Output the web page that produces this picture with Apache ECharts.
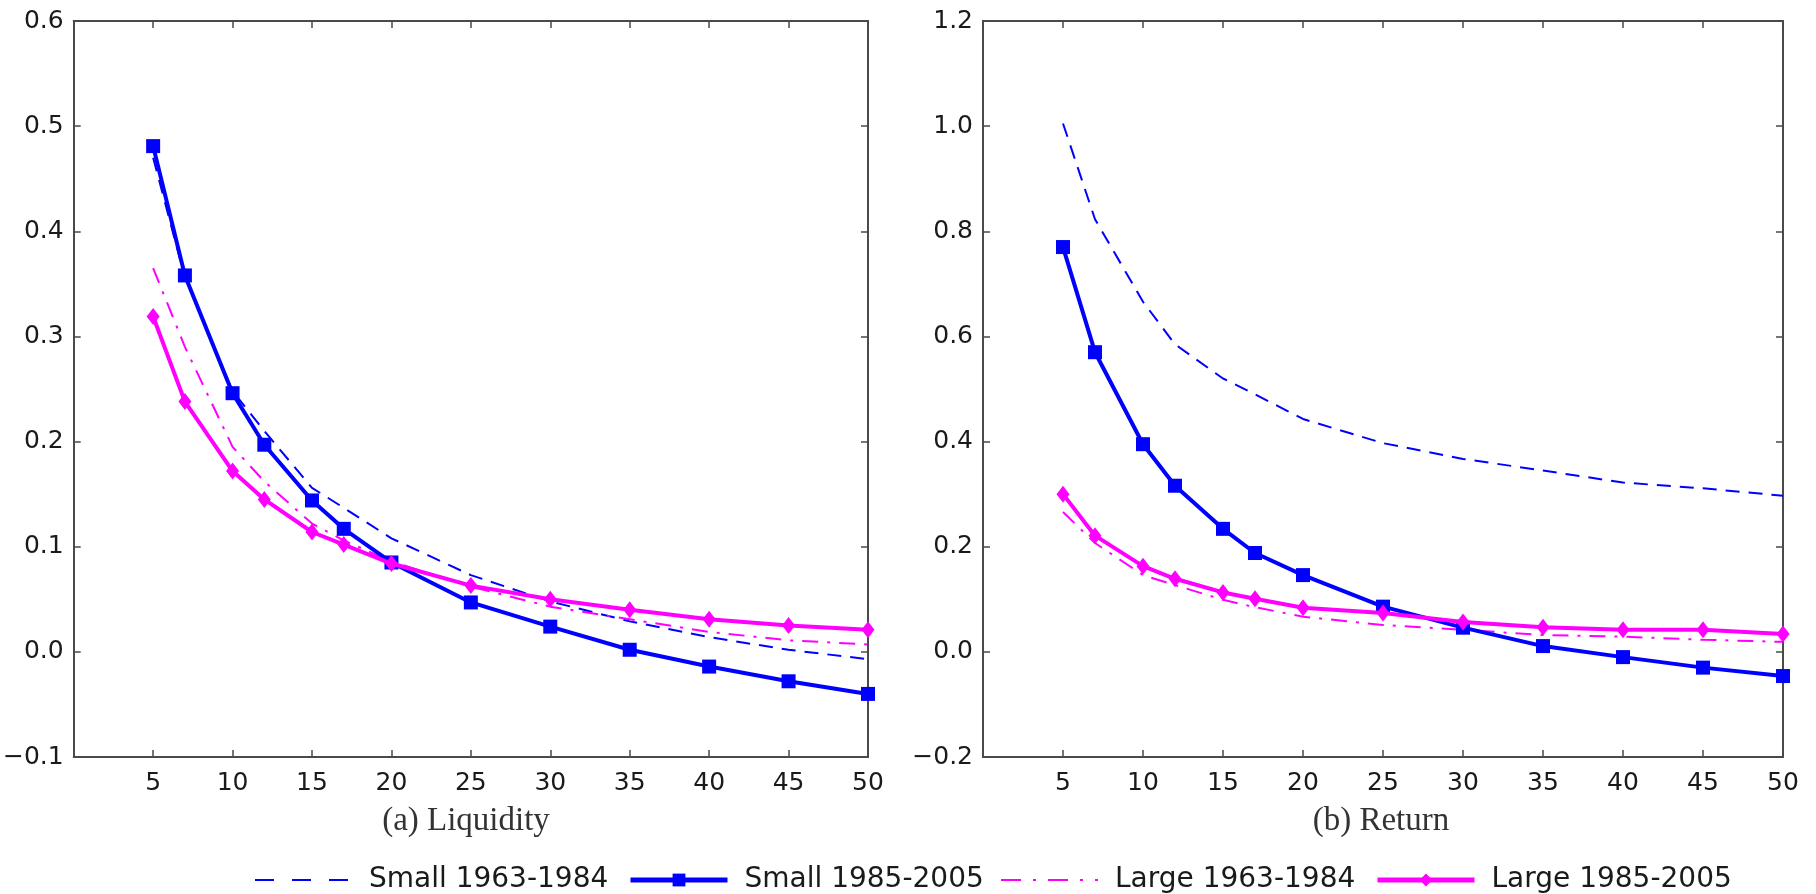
<!DOCTYPE html>
<html>
<head>
<meta charset="utf-8">
<script src="https://cdn.jsdelivr.net/npm/echarts@6/dist/echarts.min.js"></script>
<style>
html,body{margin:0;padding:0;background:#fff;}
#chart{width:1816px;height:894px;}
</style>
</head>
<body>
<div id="chart"></div>
<script>
// Horizon (x values)
const horizons = [5, 7, 10, 12, 15, 17, 20, 25, 30, 35, 40, 45, 50];

// Series names
const seriesNames = ['Small 1963-1984', 'Small 1985-2005', 'Large 1963-1984', 'Large 1985-2005'];

// Panel (a) Liquidity
const liqSmallEarly = [0.470, 0.356, 0.248, 0.210, 0.156, 0.137, 0.108, 0.073, 0.048, 0.029, 0.014, 0.002, -0.007];
const liqSmallLate  = [0.481, 0.358, 0.246, 0.197, 0.144, 0.117, 0.085, 0.047, 0.024, 0.002, -0.014, -0.028, -0.040];
const liqLargeEarly = [0.365, 0.290, 0.195, 0.162, 0.122, 0.106, 0.086, 0.062, 0.043, 0.031, 0.019, 0.011, 0.007];
const liqLargeLate  = [0.319, 0.238, 0.172, 0.145, 0.114, 0.102, 0.084, 0.063, 0.050, 0.040, 0.031, 0.025, 0.021];

// Panel (b) Return
const retSmallEarly = [1.005, 0.823, 0.666, 0.585, 0.520, 0.490, 0.443, 0.397, 0.367, 0.345, 0.322, 0.311, 0.297];
const retSmallLate  = [0.770, 0.570, 0.395, 0.316, 0.234, 0.188, 0.146, 0.086, 0.046, 0.011, -0.010, -0.030, -0.046];
const retLargeEarly = [0.266, 0.207, 0.146, 0.127, 0.099, 0.085, 0.067, 0.051, 0.042, 0.032, 0.029, 0.023, 0.019];
const retLargeLate  = [0.300, 0.221, 0.163, 0.139, 0.113, 0.101, 0.084, 0.074, 0.057, 0.047, 0.042, 0.042, 0.034];

// Axis settings
const liqYMin = -0.1, liqYMax = 0.6, liqYStep = 0.1;
const retYMin = -0.2, retYMax = 1.2, retYStep = 0.2;
const xMin = 0, xMax = 50, xStep = 5;
const panelTitles = ['(a) Liquidity', '(b) Return'];

const BLUE = '#0000ff', MAGENTA = '#ff00ff', AXIS = '#4a4a4a';
const tickFont = 'DejaVu Sans';

function pairs(ys) { return horizons.map((x, i) => [x, ys[i]]); }
function fmt(v) { const s = v.toFixed(1); return s.charAt(0) === '-' ? '\u2212' + s.slice(1) : s; }

function xAx(g, pos, show) {
  return {
    type: 'value', gridIndex: g, position: pos, min: xMin, max: xMax, interval: xStep,
    axisLine: { show: true, onZero: false, lineStyle: { color: AXIS, width: 2 } },
    axisTick: { show: true, inside: true, length: 7, lineStyle: { color: AXIS, width: 1.5 } },
    axisLabel: { show: show, showMinLabel: false, fontFamily: tickFont, fontSize: 25, color: '#1a1a1a', margin: 14 },
    splitLine: { show: false }
  };
}
function yAx(g, pos, show, mn, mx, st) {
  return {
    type: 'value', gridIndex: g, position: pos, min: mn, max: mx, interval: st,
    axisLine: { show: true, onZero: false, lineStyle: { color: AXIS, width: 2 } },
    axisTick: { show: true, inside: true, length: 7, lineStyle: { color: AXIS, width: 1.5 } },
    axisLabel: { show: show, fontFamily: tickFont, fontSize: 25, color: '#1a1a1a', margin: 10, formatter: fmt },
    splitLine: { show: false }
  };
}

function mkSeries(gx, gy, data) {
  return [
    { name: seriesNames[0], type: 'line', xAxisIndex: gx, yAxisIndex: gy, data: pairs(data[0]),
      symbol: 'none', lineStyle: { color: BLUE, width: 2, type: [14, 9] }, itemStyle: { color: BLUE }, z: 2 },
    { name: seriesNames[1], type: 'line', xAxisIndex: gx, yAxisIndex: gy, data: pairs(data[1]),
      symbol: 'rect', symbolSize: 14, showSymbol: true,
      lineStyle: { color: BLUE, width: 4 }, itemStyle: { color: BLUE }, z: 3 },
    { name: seriesNames[2], type: 'line', xAxisIndex: gx, yAxisIndex: gy, data: pairs(data[2]),
      symbol: 'none', lineStyle: { color: MAGENTA, width: 2, type: [16, 9, 3, 9] }, itemStyle: { color: MAGENTA }, z: 2 },
    { name: seriesNames[3], type: 'line', xAxisIndex: gx, yAxisIndex: gy, data: pairs(data[3]),
      symbol: 'diamond', symbolSize: [13, 17], showSymbol: true,
      lineStyle: { color: MAGENTA, width: 4 }, itemStyle: { color: MAGENTA }, z: 4 }
  ];
}

const legendLefts = [249, 623, 995, 1370];
const legendLine = [
  { color: BLUE, width: 2, type: [19, 18] },
  { color: BLUE, width: 5, type: 'solid' },
  { color: MAGENTA, width: 2, type: [20, 12, 3, 12] },
  { color: MAGENTA, width: 5, type: 'solid' }
];
const legendItem = [
  { opacity: 0 },
  { color: BLUE, opacity: 1 },
  { opacity: 0 },
  { color: MAGENTA, opacity: 1 }
];
const legends = seriesNames.map((n, i) => ({
  data: [{ name: n, lineStyle: legendLine[i], itemStyle: legendItem[i] }],
  left: legendLefts[i], top: 861, itemWidth: 97, itemHeight: 16, selectedMode: false,
  textStyle: { fontFamily: tickFont, fontSize: 28, color: '#1a1a1a', padding: [0, 0, 0, 12] }
}));

const option = {
  animation: false,
  backgroundColor: '#fff',
  grid: [
    { left: 69, right: 948, top: 21, bottom: 137 },
    { left: 983, right: 33, top: 21, bottom: 137 }
  ],
  xAxis: [xAx(0, 'bottom', true), xAx(0, 'top', false), xAx(1, 'bottom', true), xAx(1, 'top', false)],
  yAxis: [
    yAx(0, 'left', true, liqYMin, liqYMax, liqYStep), yAx(0, 'right', false, liqYMin, liqYMax, liqYStep),
    yAx(1, 'left', true, retYMin, retYMax, retYStep), yAx(1, 'right', false, retYMin, retYMax, retYStep)
  ],
  legend: legends,
  graphic: [
    { type: 'text', x: 466, y: 821, style: { text: panelTitles[0], font: '33px "Liberation Serif"', fill: '#333', align: 'center', verticalAlign: 'middle' } },
    { type: 'text', x: 1381, y: 821, style: { text: panelTitles[1], font: '33px "Liberation Serif"', fill: '#333', align: 'center', verticalAlign: 'middle' } }
  ],
  series: [
    ...mkSeries(0, 0, [liqSmallEarly, liqSmallLate, liqLargeEarly, liqLargeLate]),
    ...mkSeries(2, 2, [retSmallEarly, retSmallLate, retLargeEarly, retLargeLate])
  ]
};

const chart = echarts.init(document.getElementById('chart'), null, { renderer: 'canvas' });
chart.setOption(option);
</script>
</body>
</html>
